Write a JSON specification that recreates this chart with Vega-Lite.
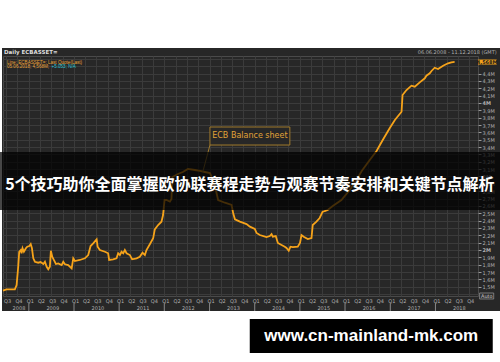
{
  "$schema": "https://vega.github.io/schema/vega-lite/v6.json",
  "width": 475,
  "height": 240,
  "autosize": {"type": "none"},
  "padding": {"left": 3, "top": 56, "right": 22, "bottom": 66},
  "background": "#272727",
  "config": {
    "view": {"fill": "#272727", "stroke": "#4a4a4a"},
    "axis": {"zindex": 0}
  },
  "datasets": {
    "ecb": [
      {"date": "2008-06-06", "value": 1.446}, {"date": "2008-07-04", "value": 1.465}, {"date": "2008-09-10", "value": 1.465},
      {"date": "2008-09-24", "value": 1.523}, {"date": "2008-10-07", "value": 1.772}, {"date": "2008-10-15", "value": 1.976},
      {"date": "2008-10-27", "value": 1.999}, {"date": "2008-11-03", "value": 1.955}, {"date": "2008-11-11", "value": 2.023},
      {"date": "2008-11-22", "value": 1.976}, {"date": "2008-12-08", "value": 2.023}, {"date": "2008-12-19", "value": 2.045},
      {"date": "2009-01-05", "value": 2.054}, {"date": "2009-01-16", "value": 2.081}, {"date": "2009-01-26", "value": 2.023},
      {"date": "2009-02-06", "value": 1.887}, {"date": "2009-02-19", "value": 1.840}, {"date": "2009-03-18", "value": 1.827},
      {"date": "2009-04-06", "value": 1.836}, {"date": "2009-04-28", "value": 1.809}, {"date": "2009-05-11", "value": 1.840},
      {"date": "2009-05-25", "value": 1.772}, {"date": "2009-06-07", "value": 1.737}, {"date": "2009-06-20", "value": 1.772},
      {"date": "2009-06-28", "value": 1.990}, {"date": "2009-07-09", "value": 1.908}, {"date": "2009-07-23", "value": 1.863},
      {"date": "2009-08-08", "value": 1.809}, {"date": "2009-08-26", "value": 1.818}, {"date": "2009-09-23", "value": 1.795},
      {"date": "2009-10-06", "value": 1.840}, {"date": "2009-10-20", "value": 1.805}, {"date": "2009-11-15", "value": 1.795},
      {"date": "2009-12-13", "value": 1.750}, {"date": "2009-12-26", "value": 1.887}, {"date": "2010-01-08", "value": 1.850},
      {"date": "2010-02-17", "value": 1.864}, {"date": "2010-03-30", "value": 1.887}, {"date": "2010-04-26", "value": 1.931},
      {"date": "2010-05-15", "value": 2.054}, {"date": "2010-06-05", "value": 2.090}, {"date": "2010-07-03", "value": 2.145},
      {"date": "2010-07-11", "value": 2.045}, {"date": "2010-07-29", "value": 1.999}, {"date": "2010-09-08", "value": 1.976},
      {"date": "2010-10-04", "value": 1.955}, {"date": "2010-10-12", "value": 1.864}, {"date": "2010-11-13", "value": 1.873},
      {"date": "2010-12-11", "value": 1.887}, {"date": "2010-12-24", "value": 1.955}, {"date": "2011-01-07", "value": 1.931},
      {"date": "2011-01-20", "value": 1.976}, {"date": "2011-02-03", "value": 1.955}, {"date": "2011-02-16", "value": 1.999},
      {"date": "2011-03-02", "value": 1.955}, {"date": "2011-03-29", "value": 1.931}, {"date": "2011-04-16", "value": 1.873},
      {"date": "2011-05-22", "value": 1.887}, {"date": "2011-06-17", "value": 1.908}, {"date": "2011-07-09", "value": 1.963},
      {"date": "2011-07-28", "value": 1.931}, {"date": "2011-08-10", "value": 1.999}, {"date": "2011-09-06", "value": 2.077},
      {"date": "2011-10-03", "value": 2.159}, {"date": "2011-10-16", "value": 2.281}, {"date": "2011-11-12", "value": 2.340},
      {"date": "2011-12-09", "value": 2.385}, {"date": "2011-12-22", "value": 2.476}, {"date": "2012-01-03", "value": 2.680},
      {"date": "2012-01-19", "value": 2.680}, {"date": "2012-02-15", "value": 2.657}, {"date": "2012-02-28", "value": 2.694},
      {"date": "2012-03-06", "value": 2.993}, {"date": "2012-04-20", "value": 3.034}, {"date": "2012-05-30", "value": 3.061},
      {"date": "2012-07-10", "value": 3.102}, {"date": "2012-09-04", "value": 3.088}, {"date": "2012-10-15", "value": 3.075},
      {"date": "2012-11-24", "value": 3.061}, {"date": "2013-01-04", "value": 3.047}, {"date": "2013-01-28", "value": 2.952},
      {"date": "2013-02-21", "value": 2.816}, {"date": "2013-03-11", "value": 2.680}, {"date": "2013-05-05", "value": 2.643},
      {"date": "2013-06-28", "value": 2.612}, {"date": "2013-07-11", "value": 2.499}, {"date": "2013-07-25", "value": 2.417},
      {"date": "2013-09-03", "value": 2.385}, {"date": "2013-10-27", "value": 2.353}, {"date": "2013-11-23", "value": 2.317},
      {"date": "2014-01-02", "value": 2.285}, {"date": "2014-01-16", "value": 2.231}, {"date": "2014-02-11", "value": 2.204},
      {"date": "2014-04-06", "value": 2.176}, {"date": "2014-05-03", "value": 2.190}, {"date": "2014-05-17", "value": 2.217},
      {"date": "2014-05-27", "value": 2.181}, {"date": "2014-06-20", "value": 2.190}, {"date": "2014-07-07", "value": 2.095},
      {"date": "2014-08-06", "value": 2.068}, {"date": "2014-09-01", "value": 2.045}, {"date": "2014-09-15", "value": 2.027},
      {"date": "2014-10-03", "value": 1.990}, {"date": "2014-10-17", "value": 2.045}, {"date": "2014-11-05", "value": 2.040},
      {"date": "2014-12-15", "value": 2.045}, {"date": "2015-01-02", "value": 2.095}, {"date": "2015-01-14", "value": 2.204},
      {"date": "2015-02-01", "value": 2.181}, {"date": "2015-03-06", "value": 2.149}, {"date": "2015-04-05", "value": 2.163},
      {"date": "2015-04-15", "value": 2.340}, {"date": "2015-05-15", "value": 2.385}, {"date": "2015-06-10", "value": 2.435},
      {"date": "2015-07-03", "value": 2.517}, {"date": "2015-07-21", "value": 2.530}, {"date": "2015-08-14", "value": 2.544},
      {"date": "2015-09-24", "value": 2.598}, {"date": "2015-12-03", "value": 2.680}, {"date": "2016-02-08", "value": 2.816},
      {"date": "2016-03-28", "value": 2.938}, {"date": "2016-05-15", "value": 3.074}, {"date": "2016-07-19", "value": 3.224},
      {"date": "2016-09-12", "value": 3.346}, {"date": "2016-11-01", "value": 3.496}, {"date": "2016-12-28", "value": 3.659},
      {"date": "2017-02-07", "value": 3.768}, {"date": "2017-04-02", "value": 3.881}, {"date": "2017-04-10", "value": 4.108},
      {"date": "2017-05-12", "value": 4.176}, {"date": "2017-06-21", "value": 4.235}, {"date": "2017-07-18", "value": 4.221},
      {"date": "2017-08-27", "value": 4.281}, {"date": "2017-10-07", "value": 4.336}, {"date": "2017-10-20", "value": 4.371},
      {"date": "2017-11-16", "value": 4.404}, {"date": "2017-11-30", "value": 4.435}, {"date": "2017-12-26", "value": 4.480},
      {"date": "2018-01-22", "value": 4.462}, {"date": "2018-03-04", "value": 4.507}, {"date": "2018-04-13", "value": 4.540},
      {"date": "2018-05-10", "value": 4.553}, {"date": "2018-06-05", "value": 4.558}
    ],
    "years": [
      {"d": "2009-01-01"}, {"d": "2010-01-01"}, {"d": "2011-01-01"}, {"d": "2012-01-01"}, {"d": "2013-01-01"},
      {"d": "2014-01-01"}, {"d": "2015-01-01"}, {"d": "2016-01-01"}, {"d": "2017-01-01"}, {"d": "2018-01-01"}
    ]
  },
  "layer": [
    {
      "data": {"name": "ecb"},
      "mark": {"type": "line", "color": "#f6a31a", "strokeWidth": 1.8},
      "encoding": {
        "x": {
          "field": "date", "type": "temporal",
          "scale": {"domain": [{"year": 2008, "month": 6, "date": 6}, {"year": 2018, "month": 12, "date": 11}]},
          "axis": {
            "orient": "bottom", "title": null,
            "tickCount": {"interval": "month", "step": 3},
            "grid": true, "gridColor": "#3b3b3b", "gridWidth": 1,
            "domain": false, "ticks": false,
            "labelColor": "#b0b0b0", "labelFontSize": 5, "labelFont": "DejaVu Sans",
            "labelPadding": 2, "labelOffset": 1, "labelLineHeight": 7,
            "labelAlign": "center", "labelBaseline": "top",
            "labelOverlap": false, "labelFlush": false,
            "labelExpr": "(month(datum.value)==6 && year(datum.value)>2008) || (month(datum.value)==9 && year(datum.value)==2008) ? ['Q' + (floor(month(datum.value)/3)+1), '' + year(datum.value)] : 'Q' + (floor(month(datum.value)/3)+1)"
          }
        },
        "y": {
          "field": "value", "type": "quantitative",
          "scale": {"domain": [1.374, 4.639], "zero": false, "nice": false},
          "axis": {
            "orient": "right", "title": null,
            "values": [1.4, 1.5, 1.6, 1.7, 1.8, 1.9, 2.0, 2.1, 2.2, 2.3, 2.4, 2.5, 2.6, 2.7, 2.8, 2.9, 3.0, 3.1, 3.2, 3.3, 3.4, 3.5, 3.6, 3.7, 3.8, 3.9, 4.0, 4.1, 4.2, 4.3, 4.4, 4.5, 4.6],
            "tickCount": 100,
            "grid": true, "gridColor": "#3b3b3b", "gridWidth": 1,
            "domain": false,
            "tickSize": 3, "tickColor": {"condition": {"test": "datum.value < 1.45 || datum.value > 4.45", "value": "transparent"}, "value": "#9a9a9a"},
            "labelPadding": 1, "labelColor": "#b0b0b0", "labelFontSize": 5, "labelFont": "DejaVu Sans",
            "labelBaseline": "middle", "labelOverlap": false, "labelFlush": false,
            "labelFontWeight": {"condition": {"test": "abs(datum.value - round(datum.value)) < 0.001", "value": "bold"}, "value": "normal"},
            "labelExpr": "datum.value < 1.45 || datum.value > 4.45 ? '' : (abs(datum.value - round(datum.value)) < 0.001 ? format(datum.value, 'd') + 'M' : replace(format(datum.value, '.1f'), '.', ',') + 'M')"
          }
        }
      }
    },
    {
      "data": {"name": "years"},
      "mark": {"type": "rule", "color": "#8a8a8a", "strokeWidth": 1},
      "encoding": {
        "x": {"field": "d", "type": "temporal"},
        "y": {"datum": 1.278},
        "y2": {"datum": 1.17}
      }
    },
    {
      "data": {"values": [{}]},
      "mark": {"type": "rect", "color": "#ffffff"},
      "encoding": {
        "x": {"datum": {"year": 2008, "month": 4, "date": 1}, "type": "temporal"},
        "x2": {"datum": {"year": 2019, "month": 7, "date": 15}},
        "y": {"datum": 5.5},
        "y2": {"datum": 4.748}
      }
    },
    {
      "data": {"values": [{}]},
      "mark": {"type": "rect", "color": "#ffffff"},
      "encoding": {
        "x": {"datum": {"year": 2008, "month": 4, "date": 1}, "type": "temporal"},
        "x2": {"datum": {"year": 2019, "month": 7, "date": 15}},
        "y": {"datum": 1.17},
        "y2": {"datum": 0.4}
      }
    },
    {
      "data": {"values": [{}]},
      "mark": {"type": "rect", "color": "#ffffff"},
      "encoding": {
        "x": {"datum": {"year": 2008, "month": 4, "date": 1}, "type": "temporal"},
        "x2": {"datum": {"year": 2008, "month": 5, "date": 29}},
        "y": {"datum": 5.5},
        "y2": {"datum": 0.4}
      }
    },
    {
      "data": {"values": [{}]},
      "mark": {"type": "text", "align": "left", "baseline": "middle", "fontSize": 5.5, "fontWeight": "bold", "font": "DejaVu Sans", "color": "#dddddd"},
      "encoding": {
        "x": {"datum": {"year": 2008, "month": 6, "date": 14}, "type": "temporal"},
        "y": {"datum": 4.693},
        "text": {"value": "Daily ECBASSET="}
      }
    },
    {
      "data": {"values": [{}]},
      "mark": {"type": "text", "align": "right", "baseline": "middle", "fontSize": 5, "font": "DejaVu Sans", "color": "#b0b0b0"},
      "encoding": {
        "x": {"datum": {"year": 2019, "month": 5, "date": 11}, "type": "temporal"},
        "y": {"datum": 4.693},
        "text": {"value": "06.06.2008 - 11.12.2018 (GMT)"}
      }
    },
    {
      "data": {"values": [{}]},
      "mark": {"type": "text", "align": "left", "baseline": "middle", "fontSize": 4.6, "font": "Liberation Sans", "color": "#e8a23a"},
      "encoding": {
        "x": {"datum": {"year": 2008, "month": 7, "date": 8}, "type": "temporal"},
        "y": {"datum": 4.548},
        "text": {"value": "Line; ECBASSET=; Last Quote(Last)"}
      }
    },
    {
      "data": {"values": [{}]},
      "mark": {"type": "text", "align": "left", "baseline": "middle", "fontSize": 4.6, "font": "Liberation Sans", "color": "#e8a23a"},
      "encoding": {
        "x": {"datum": {"year": 2008, "month": 7, "date": 8}, "type": "temporal"},
        "y": {"datum": 4.483},
        "text": {"value": "05.06.2018; 4,568M;"}
      }
    },
    {
      "data": {"values": [{}]},
      "mark": {"type": "text", "align": "left", "baseline": "middle", "fontSize": 4.6, "font": "Liberation Sans", "color": "#29c6d6"},
      "encoding": {
        "x": {"datum": {"year": 2009, "month": 7, "date": 3}, "type": "temporal"},
        "y": {"datum": 4.483},
        "text": {"value": "+5.053; N/A"}
      }
    },
    {
      "data": {"values": [{}]},
      "mark": {"type": "rule", "color": "#a07a2c", "strokeWidth": 1},
      "encoding": {
        "x": {"datum": {"year": 2013, "month": 1, "date": 4}, "type": "temporal"},
        "x2": {"datum": {"year": 2012, "month": 11, "date": 7}},
        "y": {"datum": 3.428},
        "y2": {"datum": 3.061}
      }
    },
    {
      "data": {"values": [{}]},
      "mark": {"type": "rect", "fill": "#272727", "stroke": "#a07a2c", "strokeWidth": 1},
      "encoding": {
        "x": {"datum": {"year": 2013, "month": 1, "date": 4}, "type": "temporal"},
        "x2": {"datum": {"year": 2014, "month": 10, "date": 12}},
        "y": {"datum": 3.673},
        "y2": {"datum": 3.428}
      }
    },
    {
      "data": {"values": [{}]},
      "mark": {"type": "text", "align": "center", "baseline": "middle", "fontSize": 8, "font": "DejaVu Sans", "color": "#e0a238"},
      "encoding": {
        "x": {"datum": {"year": 2013, "month": 11, "date": 23}, "type": "temporal"},
        "y": {"datum": 3.551},
        "text": {"value": "ECB Balance sheet"}
      }
    },
    {
      "data": {"values": [{}]},
      "mark": {"type": "rect", "color": "#f5a21c"},
      "encoding": {
        "x": {"datum": {"year": 2018, "month": 12, "date": 11}, "type": "temporal"},
        "x2": {"datum": {"year": 2019, "month": 5, "date": 11}},
        "y": {"datum": 4.591},
        "y2": {"datum": 4.523}
      }
    },
    {
      "data": {"values": [{}]},
      "mark": {"type": "text", "align": "center", "baseline": "middle", "fontSize": 5, "fontWeight": "bold", "font": "DejaVu Sans", "color": "#1a1a1a"},
      "encoding": {
        "x": {"datum": {"year": 2019, "month": 2, "date": 23}, "type": "temporal"},
        "y": {"datum": 4.557},
        "text": {"value": "4,568M"}
      }
    },
    {
      "data": {"values": [{}]},
      "mark": {"type": "rect", "fill": "#2e2e2e", "stroke": "#9a9a9a", "strokeWidth": 0.7},
      "encoding": {
        "x": {"datum": {"year": 2018, "month": 12, "date": 24}, "type": "temporal"},
        "x2": {"datum": {"year": 2019, "month": 4, "date": 17}},
        "y": {"datum": 1.415},
        "y2": {"datum": 1.333}
      }
    },
    {
      "data": {"values": [{}]},
      "mark": {"type": "text", "align": "center", "baseline": "middle", "fontSize": 5, "font": "DejaVu Sans", "color": "#cccccc"},
      "encoding": {
        "x": {"datum": {"year": 2019, "month": 2, "date": 20}, "type": "temporal"},
        "y": {"datum": 1.374},
        "text": {"value": "Auto"}
      }
    },
    {
      "data": {"values": [{}]},
      "mark": {"type": "rect", "color": "#000000", "opacity": 0.72},
      "encoding": {
        "x": {"datum": {"year": 2008, "month": 4, "date": 1}, "type": "temporal"},
        "x2": {"datum": {"year": 2019, "month": 7, "date": 15}},
        "y": {"datum": 3.333},
        "y2": {"datum": 2.544}
      }
    },
    {
      "data": {"values": [{}]},
      "mark": {"type": "text", "align": "center", "baseline": "middle", "fontSize": 16, "fontWeight": "bold", "font": "Noto Sans CJK SC", "color": "#ffffff"},
      "encoding": {
        "x": {"datum": {"year": 2013, "month": 11, "date": 23}, "type": "temporal"},
        "y": {"datum": 2.884},
        "text": {"value": "5个技巧助你全面掌握欧协联赛程走势与观赛节奏安排和关键节点解析"}
      }
    },
    {
      "data": {"values": [{}]},
      "mark": {"type": "rect", "color": "#000000"},
      "encoding": {
        "x": {"datum": {"year": 2013, "month": 11, "date": 22}, "type": "temporal"},
        "x2": {"datum": {"year": 2019, "month": 4, "date": 9}},
        "y": {"datum": 1.061},
        "y2": {"datum": 0.598}
      }
    },
    {
      "data": {"values": [{}]},
      "mark": {"type": "text", "align": "center", "baseline": "middle", "fontSize": 17, "fontWeight": "bold", "font": "Liberation Sans", "color": "#ffffff"},
      "encoding": {
        "x": {"datum": {"year": 2016, "month": 7, "date": 31}, "type": "temporal"},
        "y": {"datum": 0.829},
        "text": {"value": "www.cn-mainland-mk.com"}
      }
    }
  ]
}
